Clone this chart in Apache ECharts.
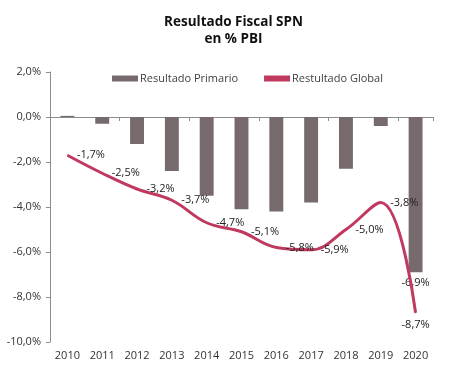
<!DOCTYPE html>
<html><head><meta charset="utf-8">
<script src="https://cdn.jsdelivr.net/npm/echarts@6/dist/echarts.min.js"></script>
<style>html,body{margin:0;padding:0;background:#fff}#c{width:467px;height:388px}</style>
</head><body><div id="c"></div>
<script>
const years = ['2010','2011','2012','2013','2014','2015','2016','2017','2018','2019','2020'];
const primario = [0.05,-0.3,-1.2,-2.4,-3.5,-4.1,-4.2,-3.8,-2.3,-0.4,-6.9];
const global = [-1.7,-2.5,-3.2,-3.7,-4.7,-5.1,-5.8,-5.9,-5.0,-3.8,-8.7];
const yTicks = [2,0,-2,-4,-6,-8,-10];

const fmt = v => (v.toFixed(1)).replace('.', ',') + '%';
const font = '"Open Sans", sans-serif';
const chart = echarts.init(document.getElementById('c'));
chart.setOption({
  animation:false,
  textStyle:{fontFamily:font},
  title:{text:'Resultado Fiscal SPN\nen % PBI',left:'center',top:9,
    textStyle:{fontSize:13.5,fontWeight:'bold',color:'#111',lineHeight:17,fontFamily:font}},
  legend:{top:68,left:107,itemWidth:26,itemHeight:6,itemGap:26,
    textStyle:{fontSize:11,color:'#404040',padding:[0,0,0,-3]},
    data:[{name:'Resultado Primario',icon:'rect'},{name:'Restultado Global',icon:'rect'}]},
  grid:{left:50,right:34,top:72,bottom:46},
  xAxis:[
    {type:'category',data:years,axisLine:{onZero:true,lineStyle:{color:'#8c8c8c'}},
     axisTick:{show:true,length:4,lineStyle:{color:'#8c8c8c'}},axisLabel:{show:false}},
    {type:'category',data:years,position:'bottom',axisLine:{show:false},axisTick:{show:false},
     axisLabel:{margin:8,fontSize:11,color:'#333'}}
  ],
  yAxis:{type:'value',min:yTicks[yTicks.length-1],max:yTicks[0],interval:2,
    axisLine:{show:true,lineStyle:{color:'#8c8c8c'}},
    axisTick:{show:true,length:4,lineStyle:{color:'#8c8c8c'}},
    splitLine:{show:false},
    axisLabel:{margin:9,fontSize:11,color:'#333',formatter:v=>fmt(v)}},
  series:[
    {name:'Resultado Primario',type:'bar',data:primario.map((v,i)=>i===primario.length-1?
       {value:v,label:{show:true,position:'bottom',distance:5,formatter:p=>fmt(p.value),fontSize:11,color:'#222'}}:v),
     barWidth:'40%',itemStyle:{color:'#776A6C'}},
    {name:'Restultado Global',type:'line',data:global.map((v,i)=>i===global.length-1?
       {value:v,label:{position:'bottom',distance:6}}:v),
     smooth:0.4,symbol:'circle',symbolSize:1,showSymbol:true,z:3,
     lineStyle:{color:'#C0395F',width:3},itemStyle:{color:'#C0395F'},
     labelLayout:{hideOverlap:false},
     label:{show:true,position:'right',distance:9,formatter:p=>fmt(p.value),fontSize:11,color:'#222'}}
  ]
});
</script></body></html>
